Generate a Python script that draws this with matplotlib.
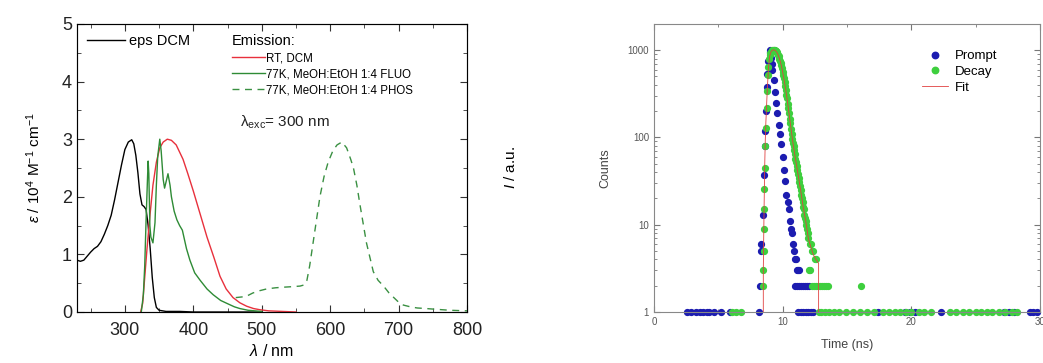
import matplotlib
matplotlib.use("Agg")
import matplotlib.pyplot as plt
from matplotlib.ticker import MultipleLocator, LogLocator, NullFormatter

plt.rcParams['font.family'] = ['Liberation Sans', 'DejaVu Sans']
plt.rcParams['mathtext.fontset'] = 'custom'
plt.rcParams['mathtext.rm'] = 'Liberation Sans'
plt.rcParams['mathtext.it'] = 'Liberation Sans:italic'

# ---- left panel: absorption / emission spectra ----
abs_wl = [230, 235, 240, 245, 250, 255, 260, 265, 270, 275, 280, 285, 290, 295, 300,
          305, 310, 313, 316, 319, 322, 325, 328, 331, 334, 337, 340, 343, 346, 350,
          355, 360, 380, 400, 450, 500]
abs_eps = [0.9, 0.88, 0.9, 0.97, 1.04, 1.1, 1.14, 1.22, 1.35, 1.5, 1.68, 1.95, 2.25, 2.55, 2.82,
           2.95, 2.99, 2.92, 2.72, 2.42, 2.05, 1.86, 1.83, 1.78, 1.5, 1.1, 0.6, 0.25, 0.08, 0.03,
           0.02, 0.01, 0.01, 0.0, 0.0, 0.0]

rt_wl = [323, 326, 329, 332, 336, 341, 346, 351, 356, 362, 368, 375, 385, 392, 400, 410,
         420, 430, 439, 448, 458, 468, 478, 488, 497, 510, 530, 550]
rt_int = [0.0, 0.15, 0.6, 1.05, 1.6, 2.2, 2.6, 2.85, 2.95, 3.0, 2.98, 2.9, 2.65, 2.4, 2.1, 1.7,
          1.3, 0.95, 0.62, 0.4, 0.25, 0.16, 0.1, 0.06, 0.04, 0.02, 0.01, 0.0]

fluo_wl = [324, 327, 329, 331, 333, 334, 335, 336.5, 338, 341, 344, 346, 348, 351, 353,
           356, 358, 360, 363, 366, 368, 372, 376, 380, 384, 390, 395, 402, 410, 420,
           429, 440, 449, 460, 468, 480, 500]
fluo_int = [0.0, 0.3, 0.8, 1.6, 2.3, 2.62, 2.4, 1.5, 1.3, 1.2, 1.55, 2.2, 2.7, 3.0, 2.8,
            2.3, 2.15, 2.25, 2.4, 2.2, 2.0, 1.75, 1.6, 1.5, 1.42, 1.1, 0.9, 0.68, 0.55, 0.4,
            0.3, 0.2, 0.15, 0.09, 0.06, 0.03, 0.01]

phos_wl = [462, 470, 477, 487, 497, 507, 520, 531, 545, 556, 562, 566, 570, 575, 580,
           585, 591, 597, 604, 610, 617, 624, 630, 634, 639, 643, 648, 653, 658, 663,
           670, 678, 686, 693, 700, 707, 717, 727, 740, 751, 775, 800]
phos_int = [0.25, 0.26, 0.27, 0.33, 0.37, 0.4, 0.42, 0.43, 0.44, 0.45, 0.47, 0.55, 0.8, 1.2, 1.6,
            2.0, 2.35, 2.6, 2.8, 2.9, 2.95, 2.85, 2.65, 2.5, 2.2, 1.9, 1.55, 1.2, 0.95, 0.7,
            0.55, 0.45, 0.33, 0.25, 0.17, 0.12, 0.09, 0.07, 0.06, 0.05, 0.03, 0.02]

# ---- right panel: lifetime decay ----
prompt_t = [2.6, 2.9, 3.3, 3.6, 3.8, 4.1, 4.3, 4.7, 5.2, 5.9, 8.2,
            8.25, 8.3, 8.35, 8.45, 8.55, 8.6, 8.65, 8.7, 8.75, 8.8, 8.9, 9.0,
            9.05, 9.1, 9.15, 9.2, 9.3, 9.4, 9.5, 9.6, 9.7, 9.8, 9.9, 10.0,
            10.1, 10.2, 10.3, 10.4, 10.5, 10.6, 10.65, 10.7, 10.8, 10.85, 10.95, 11.05,
            11.1, 11.2, 11.3, 11.0, 11.15, 11.3, 11.45, 11.6, 11.75, 11.9, 12.05,
            11.2, 11.4, 11.6, 11.8, 12.0, 12.2, 12.4,
            17.4, 19.5, 19.9, 20.3, 22.3, 27.2, 27.6, 28.0, 29.2, 29.5, 29.8]
prompt_c = [1, 1, 1, 1, 1, 1, 1, 1, 1, 1, 1,
            2, 5, 6, 13, 37, 80, 120, 200, 380, 530, 750, 1000,
            950, 820, 700, 600, 450, 330, 250, 190, 140, 110, 85, 60,
            42, 32, 22, 18, 15, 11, 9, 8, 6, 5, 4, 4,
            3, 3, 3, 2, 2, 2, 2, 2, 2, 2, 2,
            1, 1, 1, 1, 1, 1, 1,
            1, 1, 1, 1, 1, 1, 1, 1, 1, 1, 1]

decay_t = [6.1, 6.4, 6.8,
           8.48, 8.5, 8.52, 8.54, 8.56, 8.58, 8.62, 8.66, 8.7, 8.75, 8.8, 8.85, 8.9, 8.95, 9.0,
           9.05, 9.1, 9.15, 9.2, 9.25, 9.3, 9.35, 9.4, 9.45, 9.5, 9.55, 9.6, 9.65, 9.7,
           9.75, 9.8, 9.85, 9.9, 9.95, 10.0, 10.05, 10.1, 10.15, 10.2, 10.25, 10.3, 10.35,
           10.4, 10.45, 10.5, 10.55, 10.6, 10.65, 10.7, 10.75, 10.8, 10.85, 10.9, 10.95,
           11.0, 11.05, 11.1, 11.15, 11.2, 11.25, 11.3, 11.35, 11.4, 11.45, 11.5, 11.55,
           11.6, 11.65, 11.7, 11.75, 11.8, 11.85, 11.9, 11.95, 12.0, 12.1, 12.2, 12.3,
           12.4, 12.5, 12.6, 12.05, 12.15,
           12.3, 12.45, 12.6, 12.75, 12.9, 13.05, 13.2, 13.35, 13.5, 16.1,
           12.8, 13.0, 13.3, 13.6, 14.0, 14.4, 14.9, 15.5, 16.0, 16.6, 17.1, 17.8, 18.3,
           18.7, 19.1, 19.6, 20.0, 20.6, 21.0, 21.5, 23.0, 23.5, 24.0, 24.5, 25.0, 25.4,
           25.9, 26.3, 26.8, 27.3, 27.8, 28.2]
decay_c = [1, 1, 1,
           2, 3, 5, 9, 15, 26, 45, 80, 130, 220, 340, 520, 650, 800, 880,
           930, 960, 980, 1000, 1000, 1010, 1000, 1000, 990, 970, 950, 920, 890, 850,
           800, 760, 720, 670, 620, 570, 520, 480, 430, 390, 350, 310, 280,
           245, 215, 190, 165, 145, 125, 110, 97, 87, 79, 71, 64,
           57, 52, 47, 42, 38, 34, 31, 28, 25, 22, 20, 18,
           16, 15, 13, 12, 11, 10, 9, 8, 7, 6, 6, 5,
           5, 4, 4, 3, 3,
           2, 2, 2, 2, 2, 2, 2, 2, 2, 2,
           1, 1, 1, 1, 1, 1, 1, 1, 1, 1, 1, 1, 1,
           1, 1, 1, 1, 1, 1, 1, 1, 1, 1, 1, 1, 1,
           1, 1, 1, 1, 1, 1]

fit_t = [8.5, 8.5, 8.55, 8.6, 8.65, 8.7, 8.8, 8.9, 9.0, 9.1, 9.2, 9.3, 9.4, 9.5, 9.6,
         9.7, 9.8, 9.9, 10.0, 10.2, 10.4, 10.6, 10.8, 11.0, 11.2, 11.4, 11.6, 11.8, 12.0,
         12.2, 12.4, 12.6, 12.8, 12.8]
fit_c = [1, 3, 12, 40, 90, 150, 330, 620, 860, 960, 1000, 1010, 1000, 970, 920,
         850, 760, 670, 570, 390, 245, 145, 88, 57, 38, 25, 16, 11, 7,
         5.5, 4.5, 4, 3.6, 1]

fig = plt.figure(figsize=(10.43, 3.63), dpi=100)

# left panel
ax = fig.add_axes([0.0738, 0.1405, 0.374, 0.7935])
ax.plot(abs_wl, abs_eps, color='black', lw=1.0, label='eps DCM')
l_rt, = ax.plot(rt_wl, rt_int, color='#e8303c', lw=1.0, label='RT, DCM')
l_fl, = ax.plot(fluo_wl, fluo_int, color='#2e8b35', lw=1.0, label='77K, MeOH:EtOH 1:4 FLUO')
l_ph, = ax.plot(phos_wl, phos_int, color='#3a9042', lw=1.0, ls=(0, (5, 4)),
                label='77K, MeOH:EtOH 1:4 PHOS')
ax.set_xlim(230, 800)
ax.set_ylim(0, 5)
ax.xaxis.set_major_locator(MultipleLocator(100))
ax.xaxis.set_minor_locator(MultipleLocator(50))
ax.yaxis.set_major_locator(MultipleLocator(1))
ax.yaxis.set_minor_locator(MultipleLocator(0.5))
ax.tick_params(which='both', direction='in', top=True, right=True, labelsize=13,
               colors='#333333', labelcolor='#222222')
ax.tick_params(axis='x', pad=7)
ax.tick_params(which='major', length=5)
ax.tick_params(which='minor', length=3)
for s in ax.spines.values():
    s.set_color('#555555')
ax.set_xlabel(r'$\lambda$ / nm', fontsize=11.5, labelpad=3)
ax.set_ylabel(r'$\varepsilon$ / 10$^4$ M$^{-1}$ cm$^{-1}$', fontsize=11, labelpad=14)

leg1 = ax.legend(handles=[ax.lines[0]], loc='upper left', frameon=False, fontsize=10.5,
                 handlelength=2.6, handletextpad=0.3, borderaxespad=0.3,
                 bbox_to_anchor=(0.0, 1.0))
ax.add_artist(leg1)
leg2 = ax.legend(handles=[l_rt, l_fl, l_ph], loc='upper left', frameon=False, fontsize=8.3,
                 title='Emission:', title_fontsize=10.5, alignment='left',
                 handlelength=2.9, handletextpad=0.1, labelspacing=0.35,
                 bbox_to_anchor=(0.37, 1.0))
ax.text(0.418, 0.645, r'$\mathrm{\lambda}_{\rm exc}$= 300 nm', transform=ax.transAxes,
        fontsize=11, color='#222222')

ax2 = ax.twinx()
ax2.set_ylim(0, 5)
ax2.yaxis.set_major_locator(MultipleLocator(1))
ax2.yaxis.set_minor_locator(MultipleLocator(0.5))
ax2.tick_params(which='both', direction='in', labelright=False, colors='#333333')
ax2.tick_params(which='major', length=5)
ax2.tick_params(which='minor', length=3)
ax2.set_ylabel(r'$I$ / a.u.', fontsize=11, labelpad=26)

# right panel
bx = fig.add_axes([0.627, 0.1405, 0.370, 0.7935])
bx.plot(prompt_t, prompt_c, 'o', color='#1c1cb0', ms=4.2, mec='#1c1cb0',
        label='Prompt', clip_on=False)
bx.plot(decay_t, decay_c, 'o', color='#3ecf3e', ms=4.2, mec='#3ecf3e',
        label='Decay', clip_on=False)
bx.plot(fit_t, fit_c, color='#e04040', lw=0.6, label='Fit')
bx.set_yscale('log')
bx.set_xlim(0, 30)
bx.set_ylim(1, 2000)
bx.xaxis.set_major_locator(MultipleLocator(10))
bx.xaxis.set_minor_locator(MultipleLocator(5))
bx.yaxis.set_minor_locator(LogLocator(base=10, subs=range(2, 10), numticks=10))
bx.yaxis.set_minor_formatter(NullFormatter())
bx.set_yticks([1, 10, 100, 1000])
bx.set_yticklabels(['1', '10', '100', '1000'])
bx.tick_params(which='both', direction='in', top=True, right=True, labelsize=7,
               colors='#777777', labelcolor='#555555')
bx.tick_params(which='major', length=4)
bx.tick_params(which='minor', length=2)
for s in bx.spines.values():
    s.set_color('#888888')
bx.set_xlabel('Time (ns)', fontsize=9, color='#444444', labelpad=9)
bx.set_ylabel('Counts', fontsize=9, color='#444444', labelpad=12)
bx.legend(loc='upper right', frameon=False, fontsize=9.5, bbox_to_anchor=(0.92, 0.95),
          handlelength=2.0, handletextpad=0.5, labelspacing=0.25, markerscale=1.1)

plt.savefig('out.png', dpi=100)
